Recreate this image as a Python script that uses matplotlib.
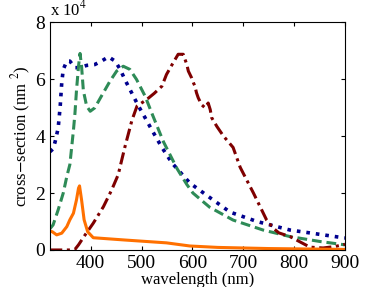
import matplotlib
matplotlib.use("Agg")
import matplotlib.pyplot as plt

# values in units of 1e4 nm^2
blue_wl = [320, 326, 330, 336, 340, 343, 346, 353, 359, 369, 379, 392, 408, 421, 435,
           448, 458, 467, 481, 494, 507, 520, 540, 560, 595, 635, 674, 727, 792, 850, 900]
blue_cs = [3.45, 3.55, 3.8, 4.28, 5.05, 5.87, 6.34, 6.63, 6.63, 6.4, 6.4, 6.48, 6.51,
           6.63, 6.78, 6.63, 6.34, 5.99, 5.5, 5.05, 4.64, 4.22, 3.6, 3.05, 2.35, 1.83,
           1.33, 1.0, 0.7, 0.55, 0.42]

green_wl = [320, 326, 336, 346, 353, 359, 366, 369, 372, 376, 379, 382, 385.5, 392, 399,
            408, 421, 438, 451, 464, 477, 490, 507, 520, 543, 570, 589, 601, 634, 680,
            739, 792, 850, 900]
green_cs = [0.75, 0.88, 1.41, 2.0, 2.58, 3.0, 4.2, 4.8, 5.6, 6.45, 6.9, 6.45, 5.6, 5.05,
            4.87, 4.99, 5.4, 5.93, 6.28, 6.45, 6.34, 5.99, 5.4, 4.81, 3.8, 2.85, 2.3,
            2.0, 1.5, 1.05, 0.7, 0.47, 0.3, 0.18]

red_wl = [320, 340, 360, 369, 376, 389, 405, 425, 441, 454, 467, 481, 491, 510, 525,
          540, 549, 562, 572, 582, 589, 592, 598.5, 602, 605, 608, 611.5, 618, 625, 631,
          635, 638, 648, 661, 680, 694, 720, 746, 760, 770, 792, 810, 831, 857, 880, 900]
red_cs = [0.0, 0.0, 0.0, 0.02, 0.18, 0.53, 0.94, 1.52, 2.1, 2.64, 3.6, 4.55, 5.05, 5.28,
          5.5, 5.75, 6.16, 6.57, 6.87, 6.87, 6.51, 6.28, 6.04, 5.87, 5.75, 5.52, 5.34,
          5.1, 4.99, 5.16, 4.93, 4.64, 4.34, 4.0, 3.6, 2.9, 2.0, 1.05, 0.75, 0.6, 0.47,
          0.3, 0.1, 0.07, 0.12, 0.2]

orange_wl = [320, 324.5, 333, 343, 353, 359, 366, 372, 376, 378, 382, 387, 394, 405,
             467, 549, 595, 650, 750, 900]
orange_cs = [0.66, 0.64, 0.53, 0.59, 0.82, 1.06, 1.29, 1.76, 2.17, 2.25, 1.76, 1.06,
             0.64, 0.43, 0.35, 0.25, 0.14, 0.09, 0.05, 0.02]

plt.rcParams['font.family'] = ['Liberation Serif', 'DejaVu Serif']
plt.rcParams['mathtext.fontset'] = 'stix'

fig = plt.figure(figsize=(3.82, 2.87), dpi=100)
ax = fig.add_axes([0.131, 0.129, 0.772, 0.794])

ax.plot(blue_wl, blue_cs, color='#00008f', linestyle=':', lw=2.6)
ax.plot(green_wl, green_cs, color='#2e8b57', linestyle=(0, (3.2, 1.6)), lw=2.2)
ax.plot(red_wl, red_cs, color='#7f0000', linestyle=(0, (4, 1.5, 1, 1.5)), lw=2.2)
ax.plot(orange_wl, orange_cs, color='#ff7000', linestyle='-', lw=2.2)

ax.set_xlim(320, 900)
ax.set_ylim(0, 8)
ax.set_xticks([400, 500, 600, 700, 800, 900])
ax.set_yticks([0, 2, 4, 6, 8])
ax.tick_params(direction='in', top=True, right=True, labelsize=14, length=3)
ax.set_xlabel('wavelength (nm)', fontsize=12, labelpad=0)
ax.set_ylabel(r'cross$-$section (nm $^2$)', fontsize=12, labelpad=2)
ax.text(0.0, 1.01, r'x 10$^4$', transform=ax.transAxes, fontsize=12,
        ha='left', va='bottom')

fig.savefig('out.png', dpi=100)
